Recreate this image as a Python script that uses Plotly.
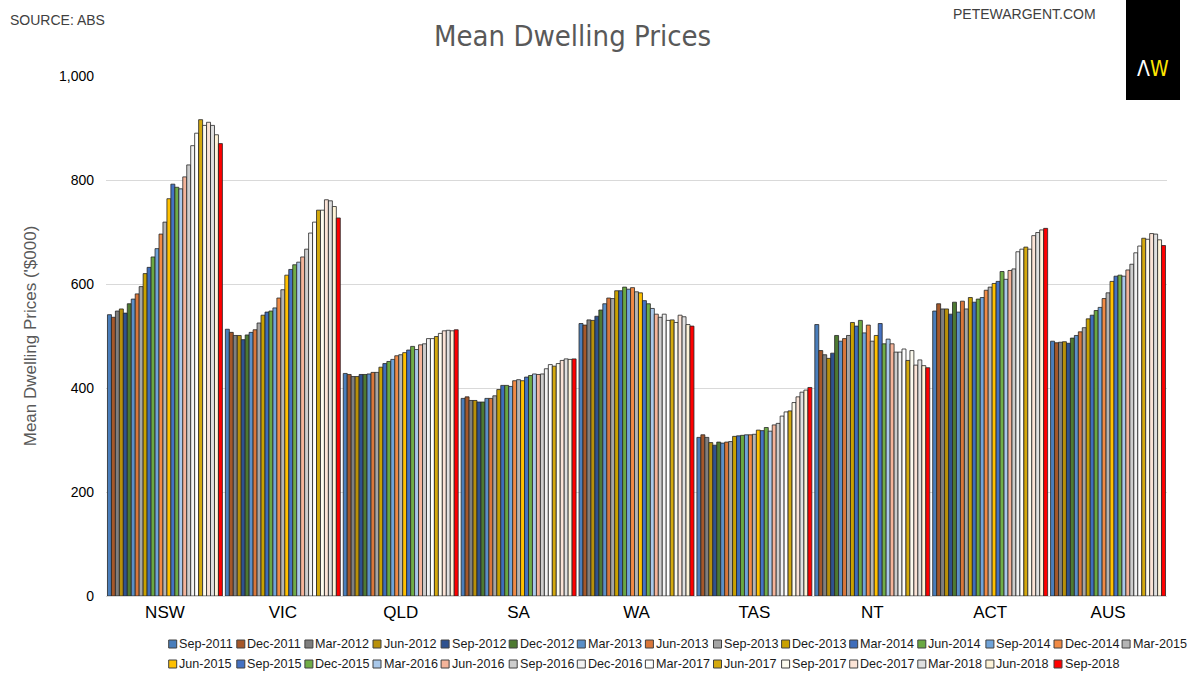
import plotly.graph_objects as go

states = ["NSW", "VIC", "QLD", "SA", "WA", "TAS", "NT", "ACT", "AUS"]
quarters = ["Sep-2011", "Dec-2011", "Mar-2012", "Jun-2012", "Sep-2012", "Dec-2012", "Mar-2013",
            "Jun-2013", "Sep-2013", "Dec-2013", "Mar-2014", "Jun-2014", "Sep-2014", "Dec-2014",
            "Mar-2015", "Jun-2015", "Sep-2015", "Dec-2015", "Mar-2016", "Jun-2016", "Sep-2016",
            "Dec-2016", "Mar-2017", "Jun-2017", "Sep-2017", "Dec-2017", "Mar-2018", "Jun-2018",
            "Sep-2018"]

NSW = [541, 536, 548, 552, 544, 562, 571, 581, 595, 620, 632, 652, 668, 696, 719, 764, 792, 786, 783,
       806, 829, 866, 890, 916, 905, 911, 905, 887, 870]
VIC = [513, 507, 501, 501, 493, 502, 507, 512, 525, 540, 546, 548, 554, 573, 589, 617, 628, 637, 642,
       652, 667, 698, 719, 742, 742, 762, 760, 749, 727]
QLD = [428, 426, 422, 422, 426, 426, 427, 430, 430, 440, 447, 451, 455, 462, 464, 468, 473, 480, 474,
       483, 485, 495, 495, 499, 505, 510, 511, 510, 512]
SA = [380, 383, 376, 376, 373, 373, 380, 380, 385, 397, 405, 405, 403, 414, 416, 414, 421, 424, 427,
      426, 427, 437, 445, 442, 447, 453, 456, 455, 456]
WA = [524, 521, 531, 530, 538, 550, 562, 573, 572, 587, 587, 594, 590, 593, 585, 583, 568, 562, 553,
      542, 536, 542, 530, 531, 526, 540, 537, 522, 519]
TAS = [305, 310, 305, 295, 290, 296, 294, 296, 297, 307, 308, 309, 310, 310, 311, 319, 318, 324, 317,
       329, 332, 346, 354, 356, 372, 383, 392, 396, 401]
NT = [522, 472, 464, 457, 467, 501, 490, 495, 501, 526, 519, 530, 506, 521, 490, 501, 524, 485, 494,
      485, 469, 469, 475, 453, 472, 444, 454, 443, 439]
ACT = [548, 562, 552, 552, 542, 565, 546, 567, 552, 574, 565, 571, 574, 588, 594, 601, 605, 624, 609,
       626, 629, 662, 667, 671, 667, 693, 699, 704, 707]
AUS = [490, 487, 488, 489, 486, 496, 501, 508, 516, 533, 540, 549, 555, 572, 583, 605, 615, 617, 615,
       627, 638, 660, 673, 688, 686, 697, 696, 685, 674]

colors = ["#4A7EBB", "#A5582A", "#7F7F7F", "#B8900A", "#2F528F", "#4E7A32", "#5B8FC7", "#D9773A",
          "#A5A5A5", "#C9A100", "#3E6DBB", "#6AA842", "#6FA3D9", "#F08A45", "#B4B4B4", "#FFC000",
          "#4472C4", "#70AD47", "#A9C8EA", "#F4B49A", "#CDCDCD", "#F2F2F2", "#FFFFFF", "#D4A90E",
          "#FDFBEF", "#FBE3D6", "#E0E0E0", "#FEF3D8", "#FF0000"]

y_ticks = [0, 200, 400, 600, 800, 1000]
y_tick_labels = ["0", "200", "400", "600", "800", "1,000"]

table = [NSW, VIC, QLD, SA, WA, TAS, NT, ACT, AUS]

W, H = 1200, 682
L, R, T, B = 106, 33, 76, 86
PW, PH = W - L - R, H - T - B

def px(x):
    return (x - L) / PW

def py(y):
    return (H - B - y) / PH

fig = go.Figure()
for qi, q in enumerate(quarters):
    fig.add_trace(go.Bar(
        x=states,
        y=[row[qi] for row in table],
        name=q,
        marker=dict(color=colors[qi], line=dict(color="#262626", width=0.8)),
        showlegend=False,
    ))

shapes = []
annotations = []

# manual legend (two rows), built from quarters/colors
per_row = 15
pitch = 68.1
x_start = 172.7
row_y = [644, 664]
for qi, q in enumerate(quarters):
    r = qi // per_row
    c = qi % per_row
    mx = x_start + c * pitch
    my = row_y[r]
    shapes.append(dict(type="rect", xref="paper", yref="paper",
                       x0=px(mx - 4), x1=px(mx + 4), y0=py(my + 4), y1=py(my - 4),
                       fillcolor=colors[qi], line=dict(color="#404040", width=1)))
    annotations.append(dict(text=q, xref="paper", yref="paper", x=px(mx + 4.5), y=py(my),
                            xanchor="left", yanchor="middle", showarrow=False,
                            font=dict(family="Arial, Liberation Sans, sans-serif", size=12.6,
                                      color="#1a1a1a")))

# logo box
shapes.append(dict(type="rect", xref="paper", yref="paper",
                   x0=px(1126), x1=px(1180), y0=py(100), y1=py(0),
                   fillcolor="#000000", line=dict(width=0), layer="above"))
annotations.append(dict(text="<span style='color:#ffffff'>Λ</span><span style='color:#FFE600'>W</span>",
                        xref="paper", yref="paper", x=px(1153), y=py(69),
                        xanchor="center", yanchor="middle", showarrow=False,
                        font=dict(family="DejaVu Sans Condensed, sans-serif",
                                  size=21, color="#ffffff")))

annotations.append(dict(text="SOURCE: ABS", xref="paper", yref="paper", x=px(8), y=py(20),
                        xanchor="left", yanchor="middle", showarrow=False,
                        font=dict(family="Arial, Liberation Sans, sans-serif", size=14, color="#404040")))
annotations.append(dict(text="PETEWARGENT.COM", xref="paper", yref="paper", x=px(1098), y=py(14),
                        xanchor="right", yanchor="middle", showarrow=False,
                        font=dict(family="Arial, Liberation Sans, sans-serif", size=14, color="#404040")))
annotations.append(dict(text="Mean Dwelling Prices", xref="paper", yref="paper", x=px(572), y=py(36),
                        xanchor="center", yanchor="middle", showarrow=False,
                        font=dict(family="DejaVu Sans Condensed, sans-serif",
                                  size=29, color="#595959")))

fig.update_layout(
    width=W, height=H,
    margin=dict(l=L, r=R, t=T, b=B, autoexpand=False),
    paper_bgcolor="#ffffff", plot_bgcolor="#ffffff",
    barmode="group", bargap=0.025, bargroupgap=0,
    shapes=shapes, annotations=annotations,
    xaxis=dict(showgrid=False, showline=False, ticks="", zeroline=False,
               tickfont=dict(family="Arial, Liberation Sans, sans-serif", size=17, color="#000000"),
               ticklabelstandoff=4, automargin=False),
    yaxis=dict(range=[0, 1000], tickvals=y_ticks, ticktext=y_tick_labels,
               showgrid=True, gridcolor="#d9d9d9", gridwidth=1, zeroline=True,
               zerolinecolor="#d9d9d9", zerolinewidth=1, showline=False, ticks="",
               tickfont=dict(family="Arial, Liberation Sans, sans-serif", size=14, color="#000000"),
               ticklabelstandoff=11, automargin=False,
               title=dict(text="Mean Dwelling Prices ('$000)", standoff=18,
                          font=dict(family="Arial, Liberation Sans, sans-serif", size=17, color="#595959"))),
)

fig.write_html("out.html")
